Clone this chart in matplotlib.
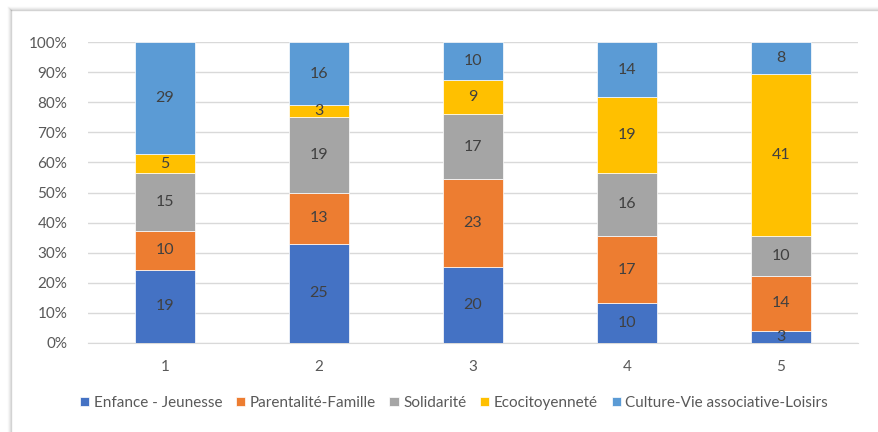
import numpy as np
import matplotlib.pyplot as plt
from matplotlib.lines import Line2D

# -------- Data ----------
categories = ["1", "2", "3", "4", "5"]
series_names = ["Enfance - Jeunesse", "Parentalité-Famille", "Solidarité",
                "Ecocitoyenneté", "Culture-Vie associative-Loisirs"]
enfance = [19, 25, 20, 10, 3]
parentalite = [10, 13, 23, 17, 14]
solidarite = [15, 19, 17, 16, 10]
ecocitoyennete = [5, 3, 9, 19, 41]
culture = [29, 16, 10, 14, 8]
colors = ["#4472C4", "#ED7D31", "#A5A5A5", "#FFC000", "#5B9BD5"]
# ------------------------

plt.rcParams['font.family'] = ['Lato', 'DejaVu Sans']
TXT = "#595959"

W, H = 879, 432
fig = plt.figure(figsize=(W / 100, H / 100), dpi=100)
fig.patch.set_facecolor("white")

# frame with soft shadow (screenshot of an Excel chart)
for i, a in enumerate([0.35, 0.2, 0.1, 0.05]):
    c = (0.55, 0.55, 0.55, a)
    fig.add_artist(Line2D([(11 - i) / W, (11 - i) / W], [0, 1 - (10 - i) / H],
                          transform=fig.transFigure, color=c, lw=1))
    fig.add_artist(Line2D([(11 - i) / W, 1], [1 - (10 - i) / H, 1 - (10 - i) / H],
                          transform=fig.transFigure, color=c, lw=1))

ax = fig.add_axes([88 / W, 1 - 343 / H, (858 - 88) / W, (343 - 42) / H])

data = np.array([enfance, parentalite, solidarite, ecocitoyennete, culture], dtype=float)
totals = data.sum(axis=0)
pct = data / totals * 100
x = np.arange(1, len(categories) + 1)

bottom = np.zeros(len(categories))
for name, vals, p, col in zip(series_names, data, pct, colors):
    ax.bar(x, p, bottom=bottom, width=0.39, color=col, label=name,
           edgecolor="white", linewidth=0.5, zorder=3)
    for xi, b, pi, v in zip(x, bottom, p, vals):
        ax.text(xi, b + pi / 2, f"{int(v)}", ha="center", va="center",
                fontsize=11.5, color="#404040", zorder=4)
    bottom += p

ax.set_xlim(0.5, len(categories) + 0.5)
ax.set_ylim(0, 100)
ax.set_yticks(np.arange(0, 101, 10))
ax.set_yticklabels([f"{v}%" for v in range(0, 101, 10)])
ax.set_xticks(x)
ax.set_xticklabels(categories)
ax.tick_params(axis="both", length=0, labelsize=11, labelcolor=TXT)
ax.tick_params(axis="y", pad=15)
ax.tick_params(axis="x", pad=12)
ax.grid(axis="y", color="#D9D9D9", linewidth=1, zorder=0)
for s in ["top", "right", "left"]:
    ax.spines[s].set_visible(False)
ax.spines["bottom"].set_color("#D9D9D9")

leg = fig.legend(loc="center", bbox_to_anchor=(454 / W, 1 - 403 / H), ncol=5,
                 frameon=False, fontsize=11, handlelength=0.6, handleheight=0.6,
                 handletextpad=0.3, columnspacing=0.9)
for t in leg.get_texts():
    t.set_color(TXT)

fig.savefig("out.png", dpi=100)
